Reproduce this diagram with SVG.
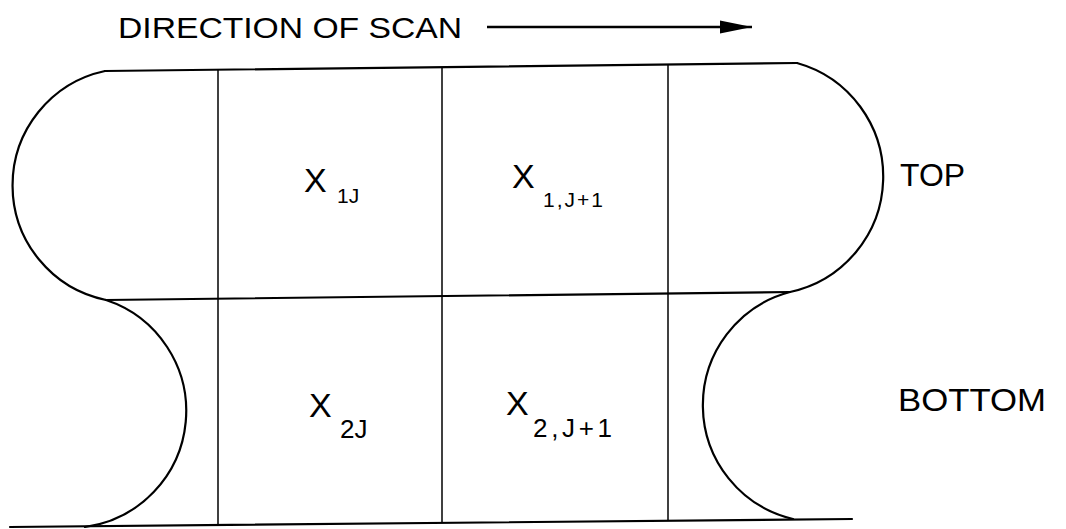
<svg xmlns="http://www.w3.org/2000/svg" width="1066" height="529" viewBox="0 0 1066 529">
<style>
.ln{fill:none;stroke:#000;stroke-width:2.2;stroke-linecap:round}
.thin{fill:none;stroke:#000;stroke-width:1.5}
.t{font-family:"Liberation Sans",Arial,sans-serif;fill:#000}
</style>
<defs>
<marker id="ah" markerUnits="userSpaceOnUse" markerWidth="34" markerHeight="16" refX="32" refY="8" orient="auto">
<path d="M0,1.5 L32,8 L0,14.5 Z" fill="#000"/>
</marker>
</defs>
<rect width="1066" height="529" fill="#fff"/>
<g id="title">
<text class="t" x="118" y="38" font-size="30" textLength="344" lengthAdjust="spacingAndGlyphs">DIRECTION OF SCAN</text>
</g>
<g id="connectors">
<line x1="487" y1="27" x2="752" y2="27" stroke="#000" stroke-width="2.5" marker-end="url(#ah)"/>
</g>
<g id="outline">
<path class="ln" d="M105,71 L797,63"/>
<path class="ln" d="M106,300 L790,292"/>
<path class="ln" d="M10,527 L852,519"/>
<path class="ln" d="M105,71 A117,117 0 0 0 106,300"/>
<path class="ln" d="M106,300 A117,117 0 0 1 85,527"/>
<path class="ln" d="M797,63 A118,118 0 0 1 790,292"/>
<path class="ln" d="M790,292 A117,117 0 0 0 793,519"/>
</g>
<g id="grid">
<line class="thin" x1="218" y1="70" x2="218" y2="526"/>
<line class="thin" x1="442" y1="67" x2="442" y2="523"/>
<line class="thin" x1="668" y1="64.5" x2="668" y2="521"/>
</g>
<g id="cell-x1j">
<text class="t" x="304" y="192" font-size="34">X</text>
<text class="t" x="337" y="203" font-size="21">1J</text>
</g>
<g id="cell-x1j1">
<text class="t" x="512" y="188" font-size="34">X</text>
<text class="t" x="543" y="207" font-size="21" textLength="60" lengthAdjust="spacing">1,J+1</text>
</g>
<g id="cell-x2j">
<text class="t" x="309" y="417" font-size="34">X</text>
<text class="t" x="340" y="438" font-size="26">2J</text>
</g>
<g id="cell-x2j1">
<text class="t" x="506" y="415" font-size="34">X</text>
<text class="t" x="533" y="437" font-size="26" textLength="79" lengthAdjust="spacing">2,J+1</text>
</g>
<g id="label-top">
<text class="t" x="900" y="186" font-size="32" textLength="65" lengthAdjust="spacingAndGlyphs">TOP</text>
</g>
<g id="label-bottom">
<text class="t" x="898" y="411" font-size="31" textLength="148" lengthAdjust="spacingAndGlyphs">BOTTOM</text>
</g>
</svg>
